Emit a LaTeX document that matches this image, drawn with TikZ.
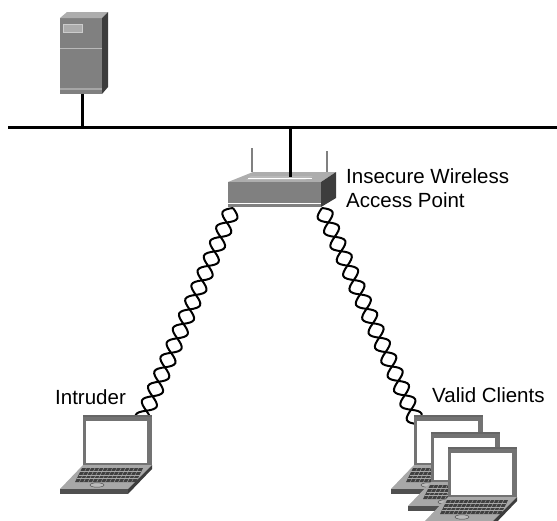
\documentclass[tikz,border=0pt]{standalone}
\usepackage{fontspec}
\setmainfont{Liberation Sans}
\usetikzlibrary{decorations.pathmorphing}

\definecolor{boxfront}{gray}{0.50}
\definecolor{boxtop}{gray}{0.68}
\definecolor{boxside}{gray}{0.24}
\definecolor{lapframe}{gray}{0.45}
\definecolor{lapbase}{gray}{0.66}

\tikzset{
    wire/.style={line width=3pt, black},
    wlink/.style={line width=2pt, decorate, decoration={coil, aspect=0, segment length=31.5pt, amplitude=8pt}},
    wlinkb/.style={line width=2pt, decorate, decoration={coil, aspect=0, segment length=31.5pt, amplitude=8pt, mirror}},
    label/.style={font=\fontsize{20.5}{24}\selectfont, inner sep=0pt, align=left},
    laptop/.pic={
        % base
        \fill[lapbase] (0,50) -- (69,50) -- (45,74) -- (-23,74) -- cycle;
        \fill[lapframe!70!black] (-23,74) -- (45,74) -- (45,79) -- (-23,79) -- cycle;
        \fill[boxside] (69,50) -- (45,74) -- (45,79) -- (69,54) -- cycle;
        % keyboard
        \fill[black!75] (-1,53) -- (60,53) -- (53,67) -- (-8,67) -- cycle;
        \foreach \i in {1,...,3} {
            \draw[lapbase, line width=0.5pt] (-1-\i*7/4,53+\i*14/4) -- (60-\i*7/4,53+\i*14/4);
        }
        \foreach \i in {1,...,13} {
            \draw[lapbase, line width=0.4pt] (-1+\i*61/14,53) -- (-8+\i*61/14,67);
        }
        \draw[black!70, fill=lapbase!80!white, line width=0.5pt] (14,70) ellipse (7 and 2.2);
        % screen
        \fill[lapframe] (0,0) rectangle (69,50);
        \fill[black!60] (0,0) rectangle (69,1.5);
        \fill[white] (3,5.5) rectangle (64,47.5);
    }
}

\begin{document}
\begin{tikzpicture}[x=1pt, y=-1pt]
    \useasboundingbox (0,0) rectangle (557,520);

    % 1. named points
    \coordinate (busL) at (8,127);
    \coordinate (busR) at (557,127);
    \coordinate (busS) at (82,127);
    \coordinate (busA) at (290,127);
    \coordinate (serverB) at (82,94);
    \coordinate (apT) at (290,177);
    \coordinate (apL) at (233,208);
    \coordinate (apR) at (322,208);
    \coordinate (intruderT) at (138,430);
    \coordinate (clientT) at (420,430);

    % 2. wires
    \draw[wire] (busL) -- (busR);
    \draw[wire] (busS) -- (serverB);

    % 3. server
    \fill[boxfront] (60,18) rectangle (102,94);
    \fill[boxtop] (60,18) -- (67,12) -- (108,12) -- (102,18) -- cycle;
    \fill[boxside] (102,18) -- (108,12) -- (108,87) -- (102,94) -- cycle;
    \fill[gray!55] (60,47.5) rectangle (102,48.8);
    \fill[gray!70] (60,88) rectangle (102,90);
    \draw[gray!40, fill=gray!65, line width=0.8pt] (63.5,24.5) rectangle (82.5,32);

    % 4. access point
    \fill[boxtop] (228,182) -- (253,172) -- (336,172) -- (321,182) -- cycle;
    \fill[gray!55] (246,180) -- (251,176) -- (313,176) -- (305,180) -- cycle;
    \fill[white] (248,177.5) rectangle (312,179);
    \fill[boxfront] (228,182) rectangle (321,207);
    \fill[white] (228,202.5) rectangle (321,204);
    \fill[boxside] (321,182) -- (336,172) -- (336,198) -- (321,207) -- cycle;
    \draw[gray, line width=2pt] (252,148) -- (252,172);
    \draw[gray, line width=2pt] (327,151) -- (327,172);
    \draw[wire] (busA) -- (apT);

    % 5. wireless links
    \draw[wlink] (apL) -- (intruderT);
    \draw[wlinkb] (apL) -- (intruderT);
    \draw[wlink] (apR) -- (clientT);
    \draw[wlinkb] (apR) -- (clientT);

    % 6. laptops
    \pic at (83,415) {laptop};
    \pic at (414,415) {laptop};
    \pic at (431,432) {laptop};
    \pic at (448,447) {laptop};

    % 7. labels
    \node[label, anchor=base west] (aplabel) at (346,183) {Insecure Wireless};
    \node[label, anchor=base west] (aplabelb) at (346,207) {Access Point};
    \node[label, anchor=base west] (intruder) at (55,404) {Intruder};
    \node[label, anchor=base west] (clients) at (432,402) {Valid Clients};
\end{tikzpicture}
\end{document}
